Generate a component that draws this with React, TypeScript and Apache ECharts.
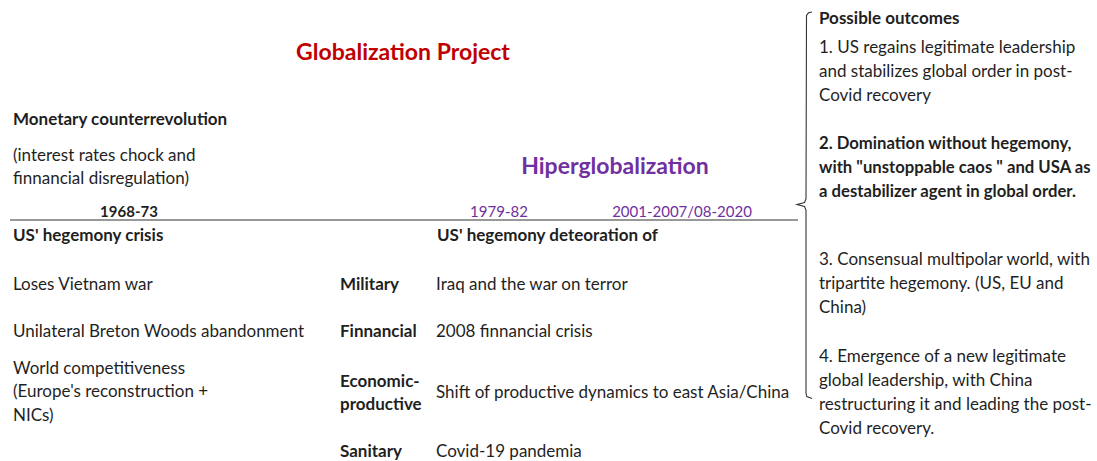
import React, { useEffect, useRef } from "react";
import * as echarts from "echarts";

// ---- content (text only) ----
const titleMain = "Globalization Project";
const titleHyper = "Hiperglobalization";
const monetaryHeading = "Monetary counterrevolution";
const monetaryNote = ["(interest rates chock and", "finnancial disregulation)"];
const periods = ["1968-73", "1979-82", "2001-2007/08-2020"];
const crisisHeading = "US' hegemony crisis";
const crisisItems = [
  ["Loses Vietnam war"],
  ["Unilateral Breton Woods abandonment"],
  ["World competitiveness", "(Europe's reconstruction +", "NICs)"],
];
const deteriorationHeading = "US' hegemony deteoration of";
const dimensions = [["Military"], ["Finnancial"], ["Economic-", "productive"], ["Sanitary"]];
const dimensionItems = [
  ["Iraq and the war on terror"],
  ["2008 finnancial crisis"],
  ["Shift of productive dynamics to east Asia/China"],
  ["Covid-19 pandemia"],
];
const outcomesHeading = "Possible outcomes";
const outcomes = [
  ["1. US regains legitimate leadership", "and stabilizes global order in post-", "Covid recovery"],
  ["2. Domination without hegemony,", "with \"unstoppable caos \" and USA as", "a destabilizer agent in global order."],
  ["3. Consensual multipolar world, with", "tripartite hegemony. (US, EU and", "China)"],
  ["4. Emergence of a new legitimate", "global leadership, with China", "restructuring it and leading the post-", "Covid recovery."],
];

// ---- layout ----
const FONT = "Lato, 'Open Sans', sans-serif";
const INK = "#1f1f1f";
const RED = "#C00000";
const PURPLE = "#7030A0";
const LH = 24;
const BASE = 17;

function txt(text: string, x: number, y: number, opts: any = {}) {
  return {
    type: "text",
    x,
    y,
    silent: true,
    style: {
      text,
      fill: opts.fill || INK,
      fontFamily: FONT,
      fontSize: opts.size || BASE,
      fontWeight: opts.bold ? "bold" : "normal",
      align: opts.align || "left",
      verticalAlign: "middle",
    },
  };
}

function lines(arr: string[], x: number, y: number, opts: any = {}) {
  return arr.map((t, i) => txt(t, x, y + i * (opts.lh || LH), opts));
}

export default function App() {
  const ref = useRef<HTMLDivElement>(null);
  useEffect(() => {
    document.body.style.margin = "0";
    const chart = echarts.init(ref.current!, null, { renderer: "svg" });
    const els: any[] = [];

    els.push(txt(titleMain, 403, 51, { fill: RED, bold: true, size: 23, align: "center" }));
    els.push(txt(titleHyper, 615, 165, { fill: PURPLE, bold: true, size: 23, align: "center" }));

    els.push(txt(monetaryHeading, 13, 118, { bold: true }));
    els.push(...lines(monetaryNote, 13, 154, { lh: 23 }));

    // timeline
    els.push(txt(periods[0], 129, 211, { bold: true, align: "center", size: 15 }));
    els.push(txt(periods[1], 499, 211, { fill: PURPLE, align: "center", size: 15 }));
    els.push(txt(periods[2], 682, 211, { fill: PURPLE, align: "center", size: 15 }));
    els.push({
      type: "line",
      silent: true,
      shape: { x1: 10, y1: 220, x2: 798, y2: 220 },
      style: { stroke: "#333", lineWidth: 1.2 },
    });

    // left column
    els.push(txt(crisisHeading, 13, 234, { bold: true }));
    const leftY = [283, 330, 367];
    crisisItems.forEach((it, i) => els.push(...lines(it, 13, leftY[i], { lh: 23.5 })));

    // middle
    els.push(txt(deteriorationHeading, 437, 234, { bold: true }));
    const dimY = [283, 330, 380, 450];
    dimensions.forEach((it, i) => els.push(...lines(it, 340, dimY[i], { bold: true, lh: 23 })));
    const itemY = [283, 330, 391, 450];
    dimensionItems.forEach((it, i) => els.push(...lines(it, 436, itemY[i])));

    // bracket
    els.push({
      type: "polyline",
      silent: true,
      shape: {
        points: [
          [812, 12], [808.5, 12.8], [806.5, 15.5],
          [806, 199], [804.5, 202.5], [797, 204.5], [804.5, 206.5], [806, 210],
          [806, 393], [806.8, 396.5], [812, 398.5],
        ],
      },
      style: { stroke: "#333", lineWidth: 1.1, fill: null },
    });

    // outcomes
    els.push(txt(outcomesHeading, 819, 17, { bold: true }));
    const outY = [46, 143, 258, 355];
    outcomes.forEach((it, i) => els.push(...lines(it, 819, outY[i], { bold: i === 1, size: i === 1 ? 16.7 : BASE })));

    chart.setOption({ animation: false, graphic: { elements: els } });
    return () => chart.dispose();
  }, []);
  return <div ref={ref} style={{ width: 1097, height: 461, background: "#fff" }} />;
}
